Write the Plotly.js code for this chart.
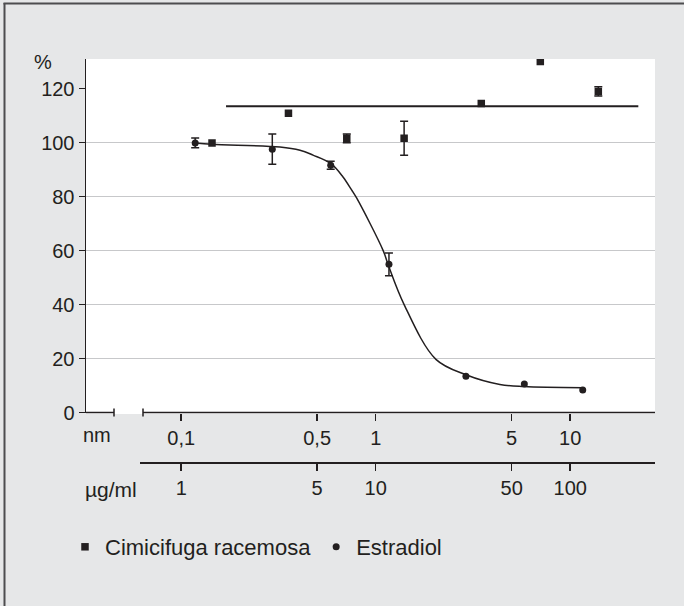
<!DOCTYPE html>
<html>
<head>
<meta charset="utf-8">
<script src="https://cdn.plot.ly/plotly-3.0.1.min.js"></script>
<style>html,body{margin:0;padding:0;background:#e6e7e8;}</style>
</head>
<body>
<div id="chart" style="width:684px;height:606px;"></div>
<script>
// ---- data ----
const estradiolNm  = [0.118, 0.294, 0.587, 1.17, 2.91, 5.81, 11.6];
const estradiolPct = [99.9, 97.6, 91.6, 54.9, 13.4, 10.6, 8.3];
const estradiolErr = [1.8, 5.6, 1.5, 4.2, NaN, NaN, NaN];

const cimiUgml = [1.44, 3.56, 7.1, 14.0, 34.9, 70.2, 139.5];
const cimiPct  = [99.9, 110.9, 101.6, 101.6, 114.5, 130.1, 119.0];
const cimiErr  = [NaN, NaN, 1.6, 6.3, NaN, NaN, 1.7];

const cimiLineUgml = [1.7, 224];
const cimiLinePct  = [113.5, 113.5];

const fitNm  = [0.118, 0.144, 0.322, 0.408, 0.476, 0.587, 0.679, 0.753, 0.799, 1.094, 1.157, 1.40, 2.04, 2.91, 4.35, 5.78, 11.67];
const fitPct = [99.9, 99.4, 98.4, 97.2, 95.4, 92.3, 87.3, 82.4, 79.4, 59.9, 54.9, 40.0, 19.7, 14.0, 10.4, 9.6, 9.2];

const nmTicks = [0.1, 0.5, 1, 5, 10];
const nmTickText = ['0,1', '0,5', '1', '5', '10'];
const ugTicks = [1, 5, 10, 50, 100];
const ugTickText = ['1', '5', '10', '50', '100'];
const pctTicks = [0, 20, 40, 60, 80, 100, 120];
const gridTicks = [20, 40, 60, 80, 100];
const seriesNames = ['Cimicifuga racemosa', 'Estradiol'];

// ---- layout geometry (pixels) ----
const W = 684, H = 606;
const L = 86, R = 655, T = 59, B = 462;   // paper area in px
const Y0 = 412.5;                          // y of the 0 line
const pw = R - L, ph = B - T;
const px = v => (v - L) / pw;
const py = v => (B - v) / ph;
const yDomLow = py(Y0);
const ink = '#231f20';
const FS = 20, FSL = 22;

const xr = [-1.4895, 1.436];
const traces = [
  {x: fitNm, y: fitPct, mode: 'lines', line: {color: ink, width: 1.5, shape: 'spline', smoothing: 1},
   showlegend: false, hoverinfo: 'skip'},
  {x: cimiLineUgml, y: cimiLinePct, xaxis: 'x3', mode: 'lines', line: {color: ink, width: 2},
   showlegend: false, hoverinfo: 'skip'},
  {x: cimiUgml, y: cimiPct, xaxis: 'x3', mode: 'markers', name: seriesNames[0],
   marker: {symbol: 'square', size: 7.5, color: ink},
   error_y: {type: 'data', array: cimiErr, visible: true, color: ink, thickness: 1.5, width: 4}},
  {x: estradiolNm, y: estradiolPct, mode: 'markers', name: seriesNames[1],
   marker: {symbol: 'circle', size: 7, color: ink},
   error_y: {type: 'data', array: estradiolErr, visible: true, color: ink, thickness: 1.5, width: 4}},
  {x: [], y: [], yaxis: 'y3', showlegend: false, hoverinfo: 'skip'},
  {x: [], y: [], xaxis: 'x2', yaxis: 'y2', showlegend: false, hoverinfo: 'skip'}
];

const fontFam = 'Liberation Sans, Arial, sans-serif';
const ugLow = (140 - 375.7) / 194.5 + 1;

const layout = {
  width: W, height: H,
  margin: {l: L, r: W - R, t: T, b: H - B, pad: 0},
  paper_bgcolor: '#e6e7e8',
  plot_bgcolor: 'rgba(0,0,0,0)',
  font: {family: fontFam, size: FS, color: ink},
  showlegend: true,
  legend: {orientation: 'h', x: px(65), y: py(547), xanchor: 'left', yanchor: 'middle',
           bgcolor: 'rgba(0,0,0,0)', font: {size: FSL, color: ink}, traceorder: 'normal'},
  xaxis: {type: 'log', range: xr, domain: [0, 1], anchor: 'y', showline: false, showgrid: false,
          zeroline: false, ticks: 'outside', ticklen: 7, tickwidth: 1.5, tickcolor: ink,
          tickmode: 'array', tickvals: nmTicks, ticktext: nmTickText},
  xaxis3: {type: 'log', range: [xr[0] + 1, xr[1] + 1], overlaying: 'x', anchor: 'y', visible: false},
  xaxis2: {type: 'log', range: [ugLow, xr[1] + 1], domain: [px(140), 1], anchor: 'y2',
           showline: true, linewidth: 1.5, linecolor: ink, showgrid: false, zeroline: false,
           ticks: 'outside', ticklen: 7, tickwidth: 1.5, tickcolor: ink,
           tickmode: 'array', tickvals: ugTicks, ticktext: ugTickText},
  yaxis: {range: [0, 131], domain: [yDomLow, 1], anchor: 'x', showline: true, linewidth: 1.5,
          linecolor: ink, showgrid: false, zeroline: false, ticks: 'outside', ticklen: 6,
          tickwidth: 1.5, tickcolor: ink, tickmode: 'array', tickvals: pctTicks},
  yaxis3: {range: [0, 131], overlaying: 'y', anchor: 'x', showgrid: true, gridcolor: '#c7c8ca',
           gridwidth: 1.5, showticklabels: false, ticks: '', showline: false, zeroline: false,
           tickmode: 'array', tickvals: gridTicks},
  yaxis2: {domain: [0, 0.001], range: [0, 1], anchor: 'x2', visible: false},
  shapes: [
    {type: 'rect', xref: 'paper', yref: 'paper', x0: 0, x1: 1, y0: py(414), y1: 1,
     fillcolor: '#ffffff', line: {width: 0}, layer: 'below'},
    {type: 'line', xref: 'paper', yref: 'paper', x0: px(86), x1: px(114), y0: yDomLow, y1: yDomLow,
     line: {color: ink, width: 1.5}},
    {type: 'line', xref: 'paper', yref: 'paper', x0: px(143), x1: 1, y0: yDomLow, y1: yDomLow,
     line: {color: ink, width: 1.5}},
    {type: 'line', xref: 'paper', yref: 'paper', x0: px(114), x1: px(114), y0: py(408.5), y1: py(416.5),
     line: {color: ink, width: 1.5}},
    {type: 'line', xref: 'paper', yref: 'paper', x0: px(143), x1: px(143), y0: py(408.5), y1: py(416.5),
     line: {color: ink, width: 1.5}},
    {type: 'line', xref: 'paper', yref: 'paper', x0: px(4.5), x1: px(4.5), y0: py(3), y1: py(606),
     line: {color: '#4d4d4f', width: 2}},
    {type: 'line', xref: 'paper', yref: 'paper', x0: px(3.5), x1: px(684), y0: py(3.5), y1: py(3.5),
     line: {color: '#4d4d4f', width: 2}}
  ],
  annotations: [
    {text: '%', xref: 'paper', yref: 'paper', x: px(43), y: py(62), xanchor: 'center', yanchor: 'middle',
     showarrow: false, font: {size: FS, color: ink}},
    {text: 'nm', xref: 'paper', yref: 'paper', x: px(97), y: py(435), xanchor: 'center', yanchor: 'middle',
     showarrow: false, font: {size: FS, color: ink}},
    {text: 'µg/ml', xref: 'paper', yref: 'paper', x: px(83), y: py(489), xanchor: 'left', yanchor: 'middle',
     showarrow: false, font: {size: 21, color: ink}}
  ]
};

Plotly.newPlot('chart', traces, layout, {staticPlot: true, displayModeBar: false});
</script>
</body>
</html>
